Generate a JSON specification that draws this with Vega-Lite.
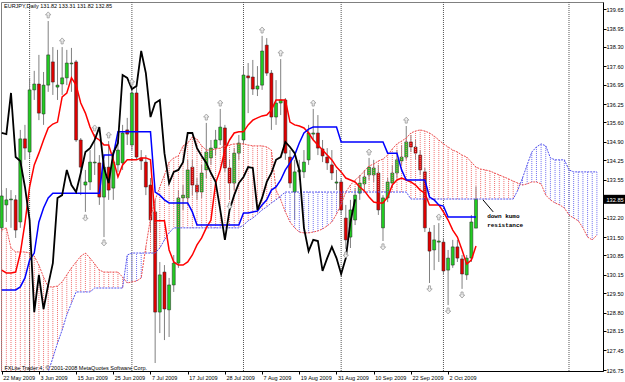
{
  "$schema": "https://vega.github.io/schema/vega-lite/v6.json",
  "width": 602,
  "height": 369,
  "autosize": {"type": "none"},
  "padding": {"left": 1, "top": 2, "right": 22, "bottom": 11},
  "background": "white",
  "config": {"view": {"stroke": "#808080"}, "font": "Liberation Sans", "axis": {"labelOverlap": false, "labelBound": false, "grid": false}},
  "title": {"text": "EURJPY,Daily 131.82 133.31 131.82 132.85", "anchor": "start", "frame": "group", "offset": -12, "fontSize": 5.5, "fontWeight": "normal", "font": "Liberation Sans", "color": "black", "dx": 3, "baseline": "alphabetic"},
  "datasets": {
    "bars": [
      {"i":0,"o":131.83,"h":133.18,"l":131.68,"c":132.97,"t":130.32,"k":129.61,"ch":135.22,"a":131.75,"b":126.22},
      {"i":1,"o":132.65,"h":133.25,"l":132.04,"c":132.83,"t":130.22,"k":129.61,"ch":135.18,"a":131.83,"b":126.22},
      {"i":2,"o":132.83,"h":133.18,"l":131.83,"c":132.86,"t":130.22,"k":129.61,"ch":136.65,"a":131.11,"b":126.22},
      {"i":3,"o":132.83,"h":133.00,"l":131.47,"c":131.75,"t":130.25,"k":129.61,"ch":134.36,"a":130.97,"b":126.22},
      {"i":4,"o":132.04,"h":135.33,"l":131.83,"c":135.01,"t":130.93,"k":129.72,"ch":134.22,"a":130.97,"b":126.22},
      {"i":5,"o":135.01,"h":135.51,"l":134.26,"c":134.68,"t":132.00,"k":130.04,"ch":133.29,"a":130.97,"b":126.22},
      {"i":6,"o":134.54,"h":137.19,"l":134.33,"c":136.76,"t":133.29,"k":130.68,"ch":132.11,"a":130.93,"b":126.22},
      {"i":7,"o":136.76,"h":137.44,"l":136.40,"c":136.97,"t":134.08,"k":130.93,"ch":128.82,"a":130.82,"b":126.22},
      {"i":8,"o":136.97,"h":138.01,"l":135.68,"c":135.93,"t":134.50,"k":132.04,"ch":130.15,"a":130.50,"b":126.22},
      {"i":9,"o":135.90,"h":137.40,"l":135.51,"c":136.93,"t":134.97,"k":132.54,"ch":128.93,"a":130.07,"b":126.22},
      {"i":10,"o":136.93,"h":139.22,"l":136.69,"c":138.01,"t":135.40,"k":132.90,"ch":129.79,"a":129.72,"b":126.68},
      {"i":11,"o":137.76,"h":138.29,"l":136.58,"c":137.04,"t":135.54,"k":133.07,"ch":130.57,"a":129.72,"b":127.18},
      {"i":12,"o":136.86,"h":138.19,"l":136.40,"c":136.93,"t":135.61,"k":133.07,"ch":132.90,"a":129.75,"b":127.71},
      {"i":13,"o":136.97,"h":138.29,"l":136.58,"c":137.19,"t":136.51,"k":133.07,"ch":133.00,"a":129.90,"b":128.18},
      {"i":14,"o":137.19,"h":138.19,"l":136.93,"c":137.72,"t":136.65,"k":133.07,"ch":133.90,"a":130.15,"b":128.72},
      {"i":15,"o":137.69,"h":138.26,"l":136.69,"c":137.72,"t":137.19,"k":133.07,"ch":133.36,"a":130.40,"b":129.14},
      {"i":16,"o":137.76,"h":137.83,"l":134.90,"c":134.97,"t":136.93,"k":133.07,"ch":133.11,"a":130.61,"b":129.54},
      {"i":17,"o":134.97,"h":135.04,"l":133.00,"c":134.00,"t":136.29,"k":133.07,"ch":133.79,"a":130.82,"b":129.54},
      {"i":18,"o":133.36,"h":133.90,"l":132.40,"c":133.47,"t":135.93,"k":133.07,"ch":134.54,"a":130.93,"b":129.54},
      {"i":19,"o":133.47,"h":134.61,"l":133.18,"c":134.18,"t":135.43,"k":133.07,"ch":134.68,"a":130.75,"b":129.54},
      {"i":20,"o":134.15,"h":135.18,"l":133.72,"c":134.18,"t":135.08,"k":133.07,"ch":134.97,"a":130.54,"b":129.68},
      {"i":21,"o":134.15,"h":134.43,"l":132.65,"c":132.93,"t":134.97,"k":133.07,"ch":135.43,"a":130.32,"b":129.68},
      {"i":22,"o":132.93,"h":134.26,"l":131.50,"c":134.00,"t":134.79,"k":134.43,"ch":133.97,"a":130.25,"b":129.68},
      {"i":23,"o":134.00,"h":134.93,"l":132.83,"c":133.18,"t":134.79,"k":134.43,"ch":133.43,"a":130.25,"b":129.68},
      {"i":24,"o":133.25,"h":134.61,"l":132.83,"c":134.18,"t":134.26,"k":134.43,"ch":134.50,"a":130.25,"b":129.68},
      {"i":25,"o":134.08,"h":134.97,"l":133.83,"c":134.61,"t":133.65,"k":135.26,"ch":134.86,"a":130.25,"b":129.68},
      {"i":26,"o":134.15,"h":135.51,"l":133.90,"c":135.22,"t":134.08,"k":135.26,"ch":137.29,"a":130.07,"b":129.68},
      {"i":27,"o":135.33,"h":135.76,"l":134.79,"c":135.18,"t":134.26,"k":135.26,"ch":137.19,"a":129.86,"b":130.86},
      {"i":28,"o":134.79,"h":136.83,"l":134.61,"c":136.65,"t":134.26,"k":135.26,"ch":136.79,"a":129.90,"b":130.93},
      {"i":29,"o":136.65,"h":136.93,"l":134.26,"c":134.36,"t":134.26,"k":135.26,"ch":136.90,"a":129.93,"b":130.93},
      {"i":30,"o":134.33,"h":134.61,"l":133.90,"c":134.22,"t":134.33,"k":135.26,"ch":138.15,"a":130.04,"b":130.93},
      {"i":31,"o":134.18,"h":134.43,"l":133.00,"c":133.29,"t":134.33,"k":135.26,"ch":137.36,"a":131.15,"b":130.93},
      {"i":32,"o":133.36,"h":133.61,"l":131.68,"c":132.11,"t":134.26,"k":135.26,"ch":135.79,"a":132.18,"b":130.93},
      {"i":33,"o":132.40,"h":132.83,"l":127.00,"c":128.82,"t":132.08,"k":133.11,"ch":136.29,"a":132.83,"b":130.93},
      {"i":34,"o":128.82,"h":130.61,"l":128.07,"c":130.15,"t":132.08,"k":133.00,"ch":136.40,"a":133.29,"b":131.11},
      {"i":35,"o":130.25,"h":130.50,"l":127.82,"c":128.93,"t":132.08,"k":132.83,"ch":134.50,"a":133.72,"b":131.40},
      {"i":36,"o":128.90,"h":130.04,"l":127.93,"c":129.79,"t":131.04,"k":132.72,"ch":133.43,"a":134.18,"b":131.65},
      {"i":37,"o":129.79,"h":130.86,"l":129.54,"c":130.57,"t":130.61,"k":132.72,"ch":133.83,"a":134.33,"b":131.83},
      {"i":38,"o":130.57,"h":133.18,"l":130.40,"c":132.90,"t":130.50,"k":132.72,"ch":133.90,"a":134.40,"b":131.83},
      {"i":39,"o":132.90,"h":133.36,"l":132.47,"c":133.00,"t":130.50,"k":132.72,"ch":134.18,"a":134.76,"b":131.83},
      {"i":40,"o":132.90,"h":134.26,"l":132.65,"c":133.90,"t":130.61,"k":132.72,"ch":135.22,"a":134.86,"b":131.83},
      {"i":41,"o":134.00,"h":134.26,"l":133.00,"c":133.36,"t":130.86,"k":132.40,"ch":135.22,"a":135.08,"b":131.83},
      {"i":42,"o":133.36,"h":133.61,"l":132.83,"c":133.11,"t":131.22,"k":131.93,"ch":134.68,"a":135.00,"b":131.83},
      {"i":43,"o":133.11,"h":134.08,"l":132.90,"c":133.79,"t":131.47,"k":131.93,"ch":134.40,"a":134.76,"b":131.83},
      {"i":44,"o":133.90,"h":135.58,"l":133.61,"c":134.54,"t":131.83,"k":131.93,"ch":134.15,"a":134.61,"b":131.83},
      {"i":45,"o":134.33,"h":134.97,"l":134.08,"c":134.68,"t":132.11,"k":131.93,"ch":133.79,"a":134.61,"b":131.83},
      {"i":46,"o":134.68,"h":135.33,"l":134.43,"c":134.97,"t":133.43,"k":131.93,"ch":133.47,"a":134.65,"b":131.83},
      {"i":47,"o":134.97,"h":136.08,"l":134.79,"c":135.43,"t":133.90,"k":131.93,"ch":132.47,"a":134.68,"b":131.83},
      {"i":48,"o":135.40,"h":135.51,"l":133.83,"c":133.97,"t":134.61,"k":131.93,"ch":131.40,"a":134.76,"b":131.83},
      {"i":49,"o":133.97,"h":134.26,"l":132.83,"c":133.43,"t":134.97,"k":131.93,"ch":132.47,"a":134.79,"b":131.83},
      {"i":50,"o":133.43,"h":134.68,"l":133.18,"c":134.50,"t":135.22,"k":131.93,"ch":133.00,"a":134.83,"b":131.83},
      {"i":51,"o":134.50,"h":135.15,"l":134.26,"c":134.86,"t":135.26,"k":131.93,"ch":133.43,"a":134.83,"b":131.83},
      {"i":52,"o":134.97,"h":137.58,"l":134.79,"c":137.29,"t":135.26,"k":132.36,"ch":133.65,"a":134.83,"b":131.93},
      {"i":53,"o":137.26,"h":137.72,"l":135.93,"c":137.19,"t":135.51,"k":132.36,"ch":134.00,"a":134.79,"b":132.08},
      {"i":54,"o":137.22,"h":137.83,"l":136.58,"c":136.79,"t":135.68,"k":132.40,"ch":133.97,"a":134.76,"b":132.18},
      {"i":55,"o":136.79,"h":137.61,"l":136.54,"c":136.90,"t":135.76,"k":132.43,"ch":132.47,"a":134.76,"b":132.32},
      {"i":56,"o":136.93,"h":138.69,"l":136.76,"c":138.15,"t":135.83,"k":132.65,"ch":132.90,"a":134.76,"b":132.47},
      {"i":57,"o":138.36,"h":138.61,"l":137.26,"c":137.36,"t":135.86,"k":132.83,"ch":133.47,"a":134.72,"b":132.58},
      {"i":58,"o":137.36,"h":137.47,"l":135.33,"c":135.79,"t":136.04,"k":133.18,"ch":133.79,"a":134.61,"b":132.72},
      {"i":59,"o":135.79,"h":137.11,"l":135.51,"c":136.29,"t":136.40,"k":133.29,"ch":134.26,"a":133.18,"b":132.83},
      {"i":60,"o":136.29,"h":137.86,"l":135.86,"c":136.40,"t":136.40,"k":133.54,"ch":134.36,"a":132.83,"b":132.97},
      {"i":61,"o":136.40,"h":136.47,"l":134.26,"c":134.50,"t":136.40,"k":133.90,"ch":134.90,"a":132.40,"b":133.11},
      {"i":62,"o":134.36,"h":134.61,"l":133.25,"c":133.43,"t":135.61,"k":134.15,"ch":134.72,"a":132.04,"b":133.11},
      {"i":63,"o":133.11,"h":134.26,"l":132.11,"c":133.83,"t":135.51,"k":134.43,"ch":134.50,"a":131.83,"b":133.11},
      {"i":64,"o":133.83,"h":134.26,"l":133.54,"c":133.90,"t":135.47,"k":134.86,"ch":133.90,"a":131.68,"b":133.11},
      {"i":65,"o":133.83,"h":134.61,"l":133.61,"c":134.18,"t":135.40,"k":135.22,"ch":131.83,"a":131.65,"b":133.11},
      {"i":66,"o":134.26,"h":135.51,"l":134.08,"c":135.22,"t":135.22,"k":135.36,"ch":131.00,"a":131.65,"b":133.11},
      {"i":67,"o":135.18,"h":136.08,"l":134.97,"c":135.22,"t":134.97,"k":135.43,"ch":131.40,"a":131.68,"b":133.11},
      {"i":68,"o":135.22,"h":135.86,"l":134.43,"c":134.68,"t":134.79,"k":135.43,"ch":131.36,"a":131.72,"b":133.11},
      {"i":69,"o":134.65,"h":134.97,"l":134.18,"c":134.40,"t":134.61,"k":135.43,"ch":130.29,"a":131.79,"b":133.11},
      {"i":70,"o":134.36,"h":134.68,"l":133.90,"c":134.15,"t":134.43,"k":135.43,"ch":130.75,"a":131.90,"b":133.11},
      {"i":71,"o":134.08,"h":134.61,"l":133.54,"c":133.79,"t":134.26,"k":135.43,"ch":131.15,"a":132.04,"b":133.11},
      {"i":72,"o":133.43,"h":133.90,"l":133.18,"c":133.47,"t":134.00,"k":135.43,"ch":130.75,"a":132.32,"b":133.11},
      {"i":73,"o":133.47,"h":133.61,"l":132.29,"c":132.47,"t":133.83,"k":134.90,"ch":130.18,"a":132.68,"b":133.11},
      {"i":74,"o":132.18,"h":132.65,"l":131.07,"c":131.40,"t":133.61,"k":134.90,"ch":130.75,"a":133.11,"b":133.11},
      {"i":75,"o":131.50,"h":132.83,"l":131.11,"c":132.47,"t":133.54,"k":134.90,"ch":132.04,"a":133.36,"b":133.11},
      {"i":76,"o":132.11,"h":133.25,"l":131.93,"c":133.00,"t":133.47,"k":134.90,"ch":132.85,"a":133.54,"b":133.11},
      {"i":77,"o":133.07,"h":133.72,"l":132.83,"c":133.43,"t":133.29,"k":134.90,"a":133.68,"b":133.11},
      {"i":78,"o":133.40,"h":133.90,"l":133.18,"c":133.65,"t":133.15,"k":134.90,"a":133.86,"b":133.11},
      {"i":79,"o":133.72,"h":134.33,"l":133.54,"c":134.00,"t":132.93,"k":134.90,"a":134.04,"b":133.11},
      {"i":80,"o":133.72,"h":134.26,"l":133.47,"c":133.97,"t":132.75,"k":134.90,"a":134.11,"b":133.11},
      {"i":81,"o":133.79,"h":134.08,"l":132.29,"c":132.47,"t":132.72,"k":134.90,"a":134.22,"b":133.11},
      {"i":82,"o":131.83,"h":133.00,"l":131.36,"c":132.90,"t":132.72,"k":134.90,"a":134.29,"b":133.11},
      {"i":83,"o":132.90,"h":133.61,"l":132.75,"c":133.47,"t":132.93,"k":134.50,"a":134.43,"b":133.11},
      {"i":84,"o":133.43,"h":134.08,"l":133.25,"c":133.79,"t":133.36,"k":134.50,"a":134.65,"b":133.11},
      {"i":85,"o":133.79,"h":134.61,"l":133.61,"c":134.26,"t":133.54,"k":134.50,"a":134.83,"b":133.11},
      {"i":86,"o":134.22,"h":134.79,"l":134.08,"c":134.36,"t":133.61,"k":133.90,"a":134.93,"b":133.11},
      {"i":87,"o":134.36,"h":135.47,"l":134.26,"c":134.90,"t":133.54,"k":133.54,"a":135.04,"b":133.11},
      {"i":88,"o":134.90,"h":135.15,"l":134.54,"c":134.72,"t":133.47,"k":133.54,"a":135.22,"b":132.86},
      {"i":89,"o":134.72,"h":134.97,"l":134.26,"c":134.50,"t":133.36,"k":133.54,"a":135.29,"b":132.86},
      {"i":90,"o":134.43,"h":134.61,"l":133.72,"c":133.90,"t":133.18,"k":133.54,"a":135.33,"b":132.86},
      {"i":91,"o":133.83,"h":133.97,"l":131.68,"c":131.83,"t":133.07,"k":133.54,"a":135.29,"b":132.86},
      {"i":92,"o":131.68,"h":131.83,"l":129.86,"c":131.00,"t":132.65,"k":132.93,"a":135.22,"b":132.86},
      {"i":93,"o":131.04,"h":131.93,"l":130.32,"c":131.40,"t":132.65,"k":132.83,"a":135.11,"b":132.86},
      {"i":94,"o":131.32,"h":132.00,"l":130.61,"c":131.36,"t":132.65,"k":132.65,"a":134.97,"b":132.86},
      {"i":95,"o":131.32,"h":131.47,"l":130.15,"c":130.29,"t":132.40,"k":132.61,"a":134.83,"b":132.86},
      {"i":96,"o":130.32,"h":131.04,"l":129.07,"c":130.75,"t":132.11,"k":132.22,"a":134.72,"b":132.86},
      {"i":97,"o":130.50,"h":131.40,"l":130.40,"c":131.15,"t":131.75,"k":132.22,"a":134.61,"b":132.86},
      {"i":98,"o":131.15,"h":131.40,"l":130.61,"c":130.75,"t":131.50,"k":132.22,"a":134.54,"b":132.86},
      {"i":99,"o":130.72,"h":130.86,"l":129.65,"c":130.18,"t":131.04,"k":132.22,"a":134.43,"b":132.86},
      {"i":100,"o":130.15,"h":130.86,"l":129.97,"c":130.75,"t":130.54,"k":132.22,"a":134.36,"b":132.86},
      {"i":101,"o":130.75,"h":132.29,"l":130.61,"c":132.04,"t":130.68,"k":132.22,"a":134.18,"b":132.86},
      {"i":102,"o":131.82,"h":133.31,"l":131.82,"c":132.85,"t":131.18,"k":132.22,"a":134.00,"b":132.86},
      {"i":103,"a":133.93,"b":132.86},
      {"i":104,"a":133.90,"b":132.86},
      {"i":105,"a":133.86,"b":132.86},
      {"i":106,"a":133.79,"b":132.86},
      {"i":107,"a":133.72,"b":132.86},
      {"i":108,"a":133.65,"b":132.86},
      {"i":109,"a":133.58,"b":132.86},
      {"i":110,"a":133.50,"b":132.86},
      {"i":111,"a":133.43,"b":133.18},
      {"i":112,"a":133.36,"b":133.61},
      {"i":113,"a":133.40,"b":134.08},
      {"i":114,"a":133.47,"b":134.54},
      {"i":115,"a":133.47,"b":134.72},
      {"i":116,"a":133.40,"b":134.83},
      {"i":117,"a":133.00,"b":134.76},
      {"i":118,"a":132.83,"b":134.33},
      {"i":119,"a":132.72,"b":134.26},
      {"i":120,"a":132.65,"b":134.26},
      {"i":121,"a":132.54,"b":134.26},
      {"i":122,"a":132.29,"b":133.90},
      {"i":123,"a":132.18,"b":133.83},
      {"i":124,"a":132.08,"b":133.83},
      {"i":125,"a":131.83,"b":133.83},
      {"i":126,"a":131.50,"b":133.83},
      {"i":127,"a":131.40,"b":133.83},
      {"i":128,"a":131.57,"b":133.83}
    ],
    "frac": [
      {"i":10,"p":139.44,"dir":"up"},
      {"i":13,"p":138.51,"dir":"up"},
      {"i":20,"p":135.40,"dir":"up"},
      {"i":23,"p":135.15,"dir":"up"},
      {"i":28,"p":137.04,"dir":"up"},
      {"i":44,"p":135.79,"dir":"up"},
      {"i":47,"p":136.29,"dir":"up"},
      {"i":56,"p":138.90,"dir":"up"},
      {"i":60,"p":138.08,"dir":"up"},
      {"i":67,"p":136.29,"dir":"up"},
      {"i":79,"p":134.54,"dir":"up"},
      {"i":87,"p":135.68,"dir":"up"},
      {"i":94,"p":132.22,"dir":"up"},
      {"i":18,"p":132.18,"dir":"down"},
      {"i":22,"p":131.29,"dir":"down"},
      {"i":49,"p":132.61,"dir":"down"},
      {"i":74,"p":130.86,"dir":"down"},
      {"i":82,"p":131.15,"dir":"down"},
      {"i":92,"p":129.65,"dir":"down"},
      {"i":96,"p":128.86,"dir":"down"},
      {"i":99,"p":129.43,"dir":"down"}
    ],
    "sep": [{"i":6},{"i":28},{"i":52},{"i":73},{"i":95},{"i":122}],
    "note": [
      {"i":104.4,"p":132.25,"label":"down kumo"},
      {"i":104.4,"p":131.93,"label":"resistance"}
    ],
    "ptr": [{"i":103.5,"p":132.83,"i2":105.7,"p2":132.40}]
  },
  "encoding": {
    "x": {
      "field": "i", "type": "quantitative",
      "scale": {"domain": [-0.1505, 129.312], "nice": false, "zero": false, "padding": 0},
      "axis": {
        "orient": "bottom",
        "values": [0,8,16,24,32,40,48,56,64,72,80,88,96],
        "labelExpr": "['22 May 2009','3 Jun 2009','15 Jun 2009','25 Jun 2009','7 Jul 2009','17 Jul 2009','28 Jul 2009','7 Aug 2009','19 Aug 2009','31 Aug 2009','10 Sep 2009','22 Sep 2009','2 Oct 2009'][round(datum.value/8)]",
        "labelAlign": "left", "labelBaseline": "top", "labelFontSize": 5.5, "labelFont": "Liberation Sans",
        "labelColor": "black", "labelPadding": 1, "labelOffset": 1,
        "tickSize": 3, "tickColor": "black", "domainColor": "black", "grid": false,
        "labelOverlap": false, "labelBound": false, "labelFlush": false,
        "title": "FXLite Trader 4, © 2001-2008 MetaQuotes Software Corp.",
        "titleAnchor": "start", "titleAlign": "left", "titleX": 3, "titleY": -2,
        "titleBaseline": "alphabetic", "titleFontSize": 5.5, "titleFontWeight": "normal",
        "titleFont": "Liberation Sans", "titleColor": "black", "zindex": 1
      }
    }
  },
  "layer": [
    {
      "data": {"name": "sep"},
      "mark": {"type": "rule", "stroke": "#555555", "strokeDash": [1, 1], "strokeWidth": 1},
      "encoding": {}
    },
    {
      "data": {"name": "bars"},
      "mark": {"type": "rule", "stroke": "#808080", "strokeWidth": 1},
      "encoding": {
        "y": {"field": "l", "type": "quantitative", "scale": {"domain": [126.715, 139.9005], "nice": false, "zero": false, "padding": 0},
          "axis": {"orient": "right", "values": [139.65,138.95,138.3,137.6,136.95,136.25,135.6,134.9,134.25,133.55,132.85,132.2,131.5,130.85,130.15,129.5,128.8,128.15,127.45,126.75], "format": ".2f", "title": null, "labelFontSize": 5.6, "labelFont": "Liberation Sans", "labelColor": {"condition": {"test": "datum.value == 132.85", "value": "white"}, "value": "black"}, "labelAlign": "left", "labelBaseline": "middle", "tickSize": 3, "tickColor": "black", "labelPadding": 0, "domainColor": "black", "grid": false, "labelOverlap": false, "labelBound": false, "zindex": 1}},
        "y2": {"field": "h"}
      }
    },
    {
      "data": {"name": "bars"},
      "mark": {"type": "bar", "size": 3, "orient": "vertical", "stroke": "#222222", "strokeWidth": 0.5},
      "encoding": {
        "y": {"field": "o", "type": "quantitative", "scale": {"domain": [126.715, 139.9005], "nice": false, "zero": false, "padding": 0},
          "axis": {"orient": "right", "values": [139.65,138.95,138.3,137.6,136.95,136.25,135.6,134.9,134.25,133.55,132.85,132.2,131.5,130.85,130.15,129.5,128.8,128.15,127.45,126.75], "format": ".2f", "title": null, "labelFontSize": 5.6, "labelFont": "Liberation Sans", "labelColor": {"condition": {"test": "datum.value == 132.85", "value": "white"}, "value": "black"}, "labelAlign": "left", "labelBaseline": "middle", "tickSize": 3, "tickColor": "black", "labelPadding": 0, "domainColor": "black", "grid": false, "labelOverlap": false, "labelBound": false, "zindex": 1}},
        "y2": {"field": "c"},
        "color": {"condition": {"test": "datum.c >= datum.o", "value": "#22cc22"}, "value": "#e00000"}
      }
    },
    {
      "data": {"name": "bars"},
      "transform": [{"filter": "datum.a >= datum.b"}],
      "mark": {"type": "rule", "stroke": "#f07070", "strokeDash": [1, 1], "strokeWidth": 1, "clip": true},
      "encoding": {
        "y": {"field": "a", "type": "quantitative", "scale": {"domain": [126.715, 139.9005], "nice": false, "zero": false, "padding": 0},
          "axis": {"orient": "right", "values": [139.65,138.95,138.3,137.6,136.95,136.25,135.6,134.9,134.25,133.55,132.85,132.2,131.5,130.85,130.15,129.5,128.8,128.15,127.45,126.75], "format": ".2f", "title": null, "labelFontSize": 5.6, "labelFont": "Liberation Sans", "labelColor": {"condition": {"test": "datum.value == 132.85", "value": "white"}, "value": "black"}, "labelAlign": "left", "labelBaseline": "middle", "tickSize": 3, "tickColor": "black", "labelPadding": 0, "domainColor": "black", "grid": false, "labelOverlap": false, "labelBound": false, "zindex": 1}},
        "y2": {"field": "b"}
      }
    },
    {
      "data": {"name": "bars"},
      "transform": [{"filter": "datum.a < datum.b"}],
      "mark": {"type": "rule", "stroke": "#7070f0", "strokeDash": [1, 1], "strokeWidth": 1, "clip": true},
      "encoding": {
        "y": {"field": "a", "type": "quantitative", "scale": {"domain": [126.715, 139.9005], "nice": false, "zero": false, "padding": 0},
          "axis": {"orient": "right", "values": [139.65,138.95,138.3,137.6,136.95,136.25,135.6,134.9,134.25,133.55,132.85,132.2,131.5,130.85,130.15,129.5,128.8,128.15,127.45,126.75], "format": ".2f", "title": null, "labelFontSize": 5.6, "labelFont": "Liberation Sans", "labelColor": {"condition": {"test": "datum.value == 132.85", "value": "white"}, "value": "black"}, "labelAlign": "left", "labelBaseline": "middle", "tickSize": 3, "tickColor": "black", "labelPadding": 0, "domainColor": "black", "grid": false, "labelOverlap": false, "labelBound": false, "zindex": 1}},
        "y2": {"field": "b"}
      }
    },
    {
      "data": {"name": "bars"},
      "mark": {"type": "line", "stroke": "#ee5050", "strokeDash": [2, 1], "strokeWidth": 1, "clip": true},
      "encoding": {
        "y": {"field": "a", "type": "quantitative", "scale": {"domain": [126.715, 139.9005], "nice": false, "zero": false, "padding": 0},
          "axis": {"orient": "right", "values": [139.65,138.95,138.3,137.6,136.95,136.25,135.6,134.9,134.25,133.55,132.85,132.2,131.5,130.85,130.15,129.5,128.8,128.15,127.45,126.75], "format": ".2f", "title": null, "labelFontSize": 5.6, "labelFont": "Liberation Sans", "labelColor": {"condition": {"test": "datum.value == 132.85", "value": "white"}, "value": "black"}, "labelAlign": "left", "labelBaseline": "middle", "tickSize": 3, "tickColor": "black", "labelPadding": 0, "domainColor": "black", "grid": false, "labelOverlap": false, "labelBound": false, "zindex": 1}}
      }
    },
    {
      "data": {"name": "bars"},
      "mark": {"type": "line", "stroke": "#5050ee", "strokeDash": [2, 1], "strokeWidth": 1, "clip": true},
      "encoding": {
        "y": {"field": "b", "type": "quantitative", "scale": {"domain": [126.715, 139.9005], "nice": false, "zero": false, "padding": 0},
          "axis": {"orient": "right", "values": [139.65,138.95,138.3,137.6,136.95,136.25,135.6,134.9,134.25,133.55,132.85,132.2,131.5,130.85,130.15,129.5,128.8,128.15,127.45,126.75], "format": ".2f", "title": null, "labelFontSize": 5.6, "labelFont": "Liberation Sans", "labelColor": {"condition": {"test": "datum.value == 132.85", "value": "white"}, "value": "black"}, "labelAlign": "left", "labelBaseline": "middle", "tickSize": 3, "tickColor": "black", "labelPadding": 0, "domainColor": "black", "grid": false, "labelOverlap": false, "labelBound": false, "zindex": 1}}
      }
    },
    {
      "data": {"name": "bars"},
      "mark": {"type": "line", "stroke": "#ff0000", "strokeWidth": 1.5, "clip": true},
      "encoding": {
        "y": {"field": "t", "type": "quantitative", "scale": {"domain": [126.715, 139.9005], "nice": false, "zero": false, "padding": 0},
          "axis": {"orient": "right", "values": [139.65,138.95,138.3,137.6,136.95,136.25,135.6,134.9,134.25,133.55,132.85,132.2,131.5,130.85,130.15,129.5,128.8,128.15,127.45,126.75], "format": ".2f", "title": null, "labelFontSize": 5.6, "labelFont": "Liberation Sans", "labelColor": {"condition": {"test": "datum.value == 132.85", "value": "white"}, "value": "black"}, "labelAlign": "left", "labelBaseline": "middle", "tickSize": 3, "tickColor": "black", "labelPadding": 0, "domainColor": "black", "grid": false, "labelOverlap": false, "labelBound": false, "zindex": 1}}
      }
    },
    {
      "data": {"name": "bars"},
      "mark": {"type": "line", "stroke": "#0000ff", "strokeWidth": 1.5, "clip": true},
      "encoding": {
        "y": {"field": "k", "type": "quantitative", "scale": {"domain": [126.715, 139.9005], "nice": false, "zero": false, "padding": 0},
          "axis": {"orient": "right", "values": [139.65,138.95,138.3,137.6,136.95,136.25,135.6,134.9,134.25,133.55,132.85,132.2,131.5,130.85,130.15,129.5,128.8,128.15,127.45,126.75], "format": ".2f", "title": null, "labelFontSize": 5.6, "labelFont": "Liberation Sans", "labelColor": {"condition": {"test": "datum.value == 132.85", "value": "white"}, "value": "black"}, "labelAlign": "left", "labelBaseline": "middle", "tickSize": 3, "tickColor": "black", "labelPadding": 0, "domainColor": "black", "grid": false, "labelOverlap": false, "labelBound": false, "zindex": 1}}
      }
    },
    {
      "data": {"name": "bars"},
      "mark": {"type": "line", "stroke": "#000000", "strokeWidth": 1.8, "clip": true},
      "encoding": {
        "y": {"field": "ch", "type": "quantitative", "scale": {"domain": [126.715, 139.9005], "nice": false, "zero": false, "padding": 0},
          "axis": {"orient": "right", "values": [139.65,138.95,138.3,137.6,136.95,136.25,135.6,134.9,134.25,133.55,132.85,132.2,131.5,130.85,130.15,129.5,128.8,128.15,127.45,126.75], "format": ".2f", "title": null, "labelFontSize": 5.6, "labelFont": "Liberation Sans", "labelColor": {"condition": {"test": "datum.value == 132.85", "value": "white"}, "value": "black"}, "labelAlign": "left", "labelBaseline": "middle", "tickSize": 3, "tickColor": "black", "labelPadding": 0, "domainColor": "black", "grid": false, "labelOverlap": false, "labelBound": false, "zindex": 1}}
      }
    },
    {
      "data": {"name": "frac"},
      "mark": {"type": "point", "filled": true, "fill": "#f0f0f0", "stroke": "#999999", "strokeWidth": 0.8, "size": 36, "opacity": 1},
      "encoding": {
        "y": {"field": "p", "type": "quantitative", "scale": {"domain": [126.715, 139.9005], "nice": false, "zero": false, "padding": 0},
          "axis": {"orient": "right", "values": [139.65,138.95,138.3,137.6,136.95,136.25,135.6,134.9,134.25,133.55,132.85,132.2,131.5,130.85,130.15,129.5,128.8,128.15,127.45,126.75], "format": ".2f", "title": null, "labelFontSize": 5.6, "labelFont": "Liberation Sans", "labelColor": {"condition": {"test": "datum.value == 132.85", "value": "white"}, "value": "black"}, "labelAlign": "left", "labelBaseline": "middle", "tickSize": 3, "tickColor": "black", "labelPadding": 0, "domainColor": "black", "grid": false, "labelOverlap": false, "labelBound": false, "zindex": 1}},
        "shape": {
          "field": "dir", "type": "nominal", "legend": null,
          "scale": {"domain": ["up", "down"], "range": ["M0,-1L0.9,0L0.35,0L0.35,1L-0.35,1L-0.35,0L-0.9,0Z", "M0,1L0.9,0L0.35,0L0.35,-1L-0.35,-1L-0.35,0L-0.9,0Z"]}
        }
      }
    },
    {
      "data": {"name": "ptr"},
      "mark": {"type": "rule", "stroke": "black", "strokeWidth": 1},
      "encoding": {
        "y": {"field": "p", "type": "quantitative", "scale": {"domain": [126.715, 139.9005], "nice": false, "zero": false, "padding": 0},
          "axis": {"orient": "right", "values": [139.65,138.95,138.3,137.6,136.95,136.25,135.6,134.9,134.25,133.55,132.85,132.2,131.5,130.85,130.15,129.5,128.8,128.15,127.45,126.75], "format": ".2f", "title": null, "labelFontSize": 5.6, "labelFont": "Liberation Sans", "labelColor": {"condition": {"test": "datum.value == 132.85", "value": "white"}, "value": "black"}, "labelAlign": "left", "labelBaseline": "middle", "tickSize": 3, "tickColor": "black", "labelPadding": 0, "domainColor": "black", "grid": false, "labelOverlap": false, "labelBound": false, "zindex": 1}},
        "x2": {"field": "i2"},
        "y2": {"field": "p2"}
      }
    },
    {
      "data": {"name": "note"},
      "mark": {"type": "text", "align": "left", "baseline": "middle", "font": "Liberation Mono", "fontWeight": "bold", "fontSize": 6, "color": "black"},
      "encoding": {
        "y": {"field": "p", "type": "quantitative", "scale": {"domain": [126.715, 139.9005], "nice": false, "zero": false, "padding": 0},
          "axis": {"orient": "right", "values": [139.65,138.95,138.3,137.6,136.95,136.25,135.6,134.9,134.25,133.55,132.85,132.2,131.5,130.85,130.15,129.5,128.8,128.15,127.45,126.75], "format": ".2f", "title": null, "labelFontSize": 5.6, "labelFont": "Liberation Sans", "labelColor": {"condition": {"test": "datum.value == 132.85", "value": "white"}, "value": "black"}, "labelAlign": "left", "labelBaseline": "middle", "tickSize": 3, "tickColor": "black", "labelPadding": 0, "domainColor": "black", "grid": false, "labelOverlap": false, "labelBound": false, "zindex": 1}},
        "text": {"field": "label"}
      }
    },
    {
      "data": {"name": "bars"},
      "transform": [{"filter": "datum.i == 102"}],
      "mark": {"type": "tick", "orient": "horizontal", "thickness": 9, "size": 22, "color": "black", "opacity": 1, "clip": false},
      "encoding": {
        "x": {"datum": 131.8},
        "y": {"field": "c", "type": "quantitative", "scale": {"domain": [126.715, 139.9005], "nice": false, "zero": false, "padding": 0},
          "axis": {"orient": "right", "values": [139.65,138.95,138.3,137.6,136.95,136.25,135.6,134.9,134.25,133.55,132.85,132.2,131.5,130.85,130.15,129.5,128.8,128.15,127.45,126.75], "format": ".2f", "title": null, "labelFontSize": 5.6, "labelFont": "Liberation Sans", "labelColor": {"condition": {"test": "datum.value == 132.85", "value": "white"}, "value": "black"}, "labelAlign": "left", "labelBaseline": "middle", "tickSize": 3, "tickColor": "black", "labelPadding": 0, "domainColor": "black", "grid": false, "labelOverlap": false, "labelBound": false, "zindex": 1}}
      }
    }
  ]
}
